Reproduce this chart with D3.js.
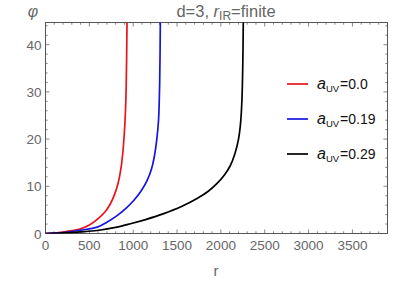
<!DOCTYPE html>
<html><head><meta charset="utf-8">
<script src="https://cdn.jsdelivr.net/npm/d3@7"></script>
<style>body{margin:0;background:#fff}svg{display:block}text{font-family:"Liberation Sans",Arial,sans-serif}</style>
</head><body><svg id="c" width="407" height="282"></svg>
<script>
const xTicks = [0,500,1000,1500,2000,2500,3000,3500];
const yTicks = [0,10,20,30,40];
const seriesNames = ["0.0","0.19","0.29"];
const seriesColors = ["#e8141c","#1515e0","#000000"];
const redR   = [0,100,200,300,400,500,590,680,740,790,830,862,886,906,920,930];
const redPhi = [0,0.07,0.28,0.6,1.0,1.8,3.0,4.6,6.3,8.4,10.8,14,18,23.5,31,46];
const blueR   = [0,200,400,590,700,816,920,1006,1090,1158,1208,1240,1268,1289,1302,1310];
const bluePhi = [0,0.18,0.7,1.35,2.4,3.8,5.4,7,9,11.2,13.6,16.2,19.8,24,32,46];
const blackR   = [0,200,400,589,800,968,1150,1348,1550,1728,1860,1956,2040,2105,2158,2200,2225,2240,2250,2256];
const blackPhi = [0,0.12,0.35,0.64,1.3,2.06,3.0,4.2,5.7,7.4,9,10.6,12.4,14.3,16.8,19.9,23.5,28.3,36,46];

const svg = d3.select("#c");
const L=45.5, R=387.5, T=22.5, B=233.5;
const x = d3.scaleLinear().domain([0,3900]).range([L,R]);
const y = d3.scaleLinear().domain([0,44.7]).range([B,T]);
const axisCol="#555", labCol="#666";

svg.append("defs").append("clipPath").attr("id","clip").append("rect")
  .attr("x",L).attr("y",T).attr("width",R-L).attr("height",B-T);

svg.append("rect").attr("x",L).attr("y",T).attr("width",R-L).attr("height",B-T)
  .attr("fill","none").attr("stroke",axisCol).attr("stroke-width",1);

const xMinor = d3.range(0,3901,100);
const yMinor = d3.range(0,44.7,2);
const tg = svg.append("g").attr("stroke",axisCol).attr("stroke-width",0.7);
xMinor.forEach(v=>{
  const major = v%500===0; const len = major?4:2.2; const px=x(v);
  tg.append("line").attr("x1",px).attr("x2",px).attr("y1",B).attr("y2",B-len);
  tg.append("line").attr("x1",px).attr("x2",px).attr("y1",T).attr("y2",T+len);
});
yMinor.forEach(v=>{
  const major = v%10===0; const len = major?4:2.2; const py=y(v);
  tg.append("line").attr("x1",L).attr("x2",L+len).attr("y1",py).attr("y2",py);
  tg.append("line").attr("x1",R).attr("x2",R-len).attr("y1",py).attr("y2",py);
});
svg.append("g").selectAll("text").data(xTicks).join("text")
  .attr("x",d=>x(d)).attr("y",B+16).attr("text-anchor","middle")
  .attr("font-size",13.5).attr("fill",labCol).text(d=>d);
svg.append("g").selectAll("text").data(yTicks).join("text")
  .attr("x",L-4).attr("y",d=>y(d)+5).attr("text-anchor","end")
  .attr("font-size",13.5).attr("fill",labCol).text(d=>d);

const line = d3.line().x(d=>x(d[0])).y(d=>y(d[1])).curve(d3.curveCatmullRom.alpha(0.5));
const data = [d3.zip(redR,redPhi), d3.zip(blueR,bluePhi), d3.zip(blackR,blackPhi)];
svg.append("g").attr("clip-path","url(#clip)").selectAll("path").data(data).join("path")
  .attr("d",line).attr("fill","none").attr("stroke",(d,i)=>seriesColors[i]).attr("stroke-width",1.7);

const title = svg.append("text").attr("x",226).attr("y",17).attr("text-anchor","middle")
  .attr("font-size",16.5).attr("fill",labCol);
title.append("tspan").text("d=3, ");
title.append("tspan").attr("font-style","italic").text("r");
title.append("tspan").attr("font-size",12).attr("dy",3).text("IR");
title.append("tspan").attr("dy",-3).text("=finite");

svg.append("text").attr("x",33).attr("y",17).attr("text-anchor","middle")
  .attr("font-size",16).attr("font-style","italic").attr("fill",labCol).text("φ");
svg.append("text").attr("x",216).attr("y",276).attr("text-anchor","middle")
  .attr("font-size",15).attr("fill",labCol).text("r");

const legY=[84,119,154];
seriesNames.forEach((n,i)=>{
  svg.append("line").attr("x1",287).attr("x2",308).attr("y1",legY[i]).attr("y2",legY[i])
    .attr("stroke",seriesColors[i]).attr("stroke-width",1.7);
  const t = svg.append("text").attr("x",317).attr("y",legY[i]+5).attr("font-size",14).attr("fill","#111");
  t.append("tspan").attr("font-style","italic").attr("font-size",16).text("a");
  t.append("tspan").attr("font-size",9.5).attr("dy",2.5).text("UV");
  t.append("tspan").attr("dy",-2.5).attr("dx",1).text("="+n);
});
</script></body></html>
